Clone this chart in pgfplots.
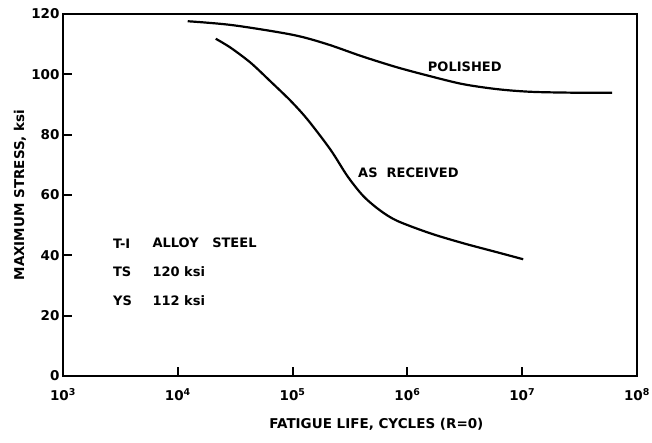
\documentclass[border=0pt]{standalone}
\usepackage{pgfplots}
\pgfplotsset{compat=1.18}
\usepackage{fontspec}
\setmainfont{DejaVu Sans}

% S-N curves, T-1 alloy steel
\begin{document}
\begin{tikzpicture}[x=1pt,y=1pt]
\path[use as bounding box] (0,0) rectangle (652,443);
\begin{axis}[
  at={(63pt,67pt)}, anchor=south west,
  scale only axis, width=574pt, height=362pt,
  xmode=log, xmin=1e3, xmax=1e8, ymin=0, ymax=120,
  xtick={1e3,1e4,1e5,1e6,1e7,1e8},
  xticklabels={10\textsuperscript{3},10\textsuperscript{4},10\textsuperscript{5},10\textsuperscript{6},10\textsuperscript{7},10\textsuperscript{8}},
  ytick={0,20,40,60,80,100,120},
  xminorticks=false, yminorticks=false,
  xtick pos=bottom, ytick pos=left,
  tick align=inside, major tick length=9pt,
  axis line style={line width=2.2pt},
  every tick/.style={line width=2pt, black},
  tick label style={font=\bfseries\fontsize{13.5}{14}\selectfont},
  xticklabel style={yshift=-9pt},
  /pgf/number format/assume math mode=true,
  xlabel={FATIGUE LIFE, CYCLES (R=0)},
  ylabel={MAXIMUM STRESS, ksi},
  label style={font=\bfseries\fontsize{13.5}{14}\selectfont},
  xlabel style={at={(axis description cs:0.546,-0.133)}, anchor=center},
  ylabel style={at={(axis description cs:-0.075,0.5)}, anchor=center},
  clip=false,
]
% polished specimens
\addplot[smooth, line width=2.2pt, black] coordinates {
  (1.22e4,117.6) (3e4,116.3) (1e5,113.1) (2e5,110.0)
  (4e5,106.0) (8e5,102.4) (1.5e6,99.6) (3e6,96.8)
  (6e6,95.1) (1.2e7,94.2) (3e7,93.9) (6.07e7,93.9)
};
% as-received specimens
\addplot[smooth, line width=2.2pt, black] coordinates {
  (2.14e4,111.8) (2.89e4,108.8) (4.32e4,103.8) (6.44e4,97.6)
  (9.62e4,91.2) (1.35e5,85.0) (2.14e5,75.0) (3.01e5,66.2)
  (4.14e5,59.6) (5.82e5,54.8) (8.18e5,51.4) (1.58e6,47.3)
  (3.07e6,44.0) (6.07e6,41.0) (1.02e7,38.7)
};
\begin{scope}[every node/.style={font=\bfseries\fontsize{13}{14}\selectfont, inner sep=0pt}]
\node at (axis cs:3.16e6,102.5) {POLISHED};
\node at (axis cs:1.02e6,67.3) {AS\ \ RECEIVED};
\node[anchor=west] at (axis cs:2.72e3,44.0) {T-I};
\node[anchor=west] at (axis cs:6.0e3,44.0) {ALLOY\ \ \ STEEL};
\node[anchor=west] at (axis cs:2.72e3,34.7) {TS};
\node[anchor=west] at (axis cs:6.0e3,34.7) {120 ksi};
\node[anchor=west] at (axis cs:2.72e3,25.1) {YS};
\node[anchor=west] at (axis cs:6.0e3,25.1) {112 ksi};
\end{scope}
\end{axis}
\end{tikzpicture}
\end{document}
